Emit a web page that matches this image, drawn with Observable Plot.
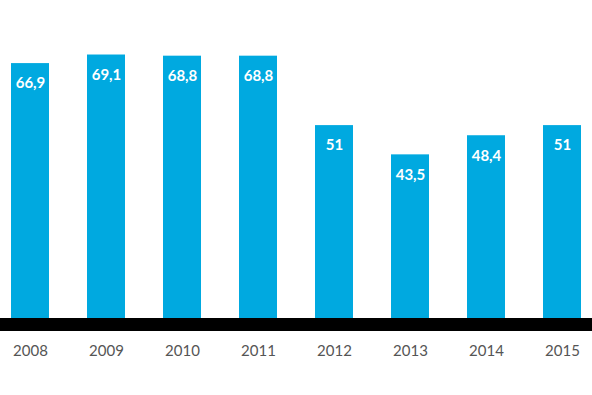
<!DOCTYPE html>
<html>
<head>
<meta charset="utf-8">
<script src="https://cdn.jsdelivr.net/npm/d3@7"></script>
<script src="https://cdn.jsdelivr.net/npm/@observablehq/plot@0.6"></script>
<style>
  html, body { margin: 0; padding: 0; background: #fff; }
</style>
</head>
<body>
<div id="chart"></div>
<script>
const years = ["2008", "2009", "2010", "2011", "2012", "2013", "2014", "2015"];
const values = [66.9, 69.1, 68.8, 68.8, 51, 43.5, 48.4, 51];

const data = years.map((year, i) => ({year, value: values[i], label: String(values[i]).replace(".", ",")}));

const chart = Plot.plot({
  width: 592,
  height: 395,
  marginTop: 12,
  marginBottom: 71,
  marginLeft: 0,
  marginRight: 0,
  style: {fontFamily: "Lato, sans-serif", background: "#fff"},
  x: {domain: years, range: [-8, 600], paddingInner: 0.5, paddingOuter: 0.25, label: null},
  y: {domain: [0, 80], axis: null},
  marks: [
    Plot.barY(data, {x: "year", y: "value", fill: "#00a9e0"}),
    Plot.text(data, {x: "year", y: "value", text: "label", dy: 20, fill: "#fff", fontWeight: "bold", fontSize: 15}),
    Plot.ruleY([0], {stroke: "#000", strokeWidth: 13}),
    Plot.axisX({tickSize: 0, tickPadding: 21, fontSize: 15, fill: "#555", label: null})
  ]
});
document.getElementById("chart").append(chart);
</script>
</body>
</html>
